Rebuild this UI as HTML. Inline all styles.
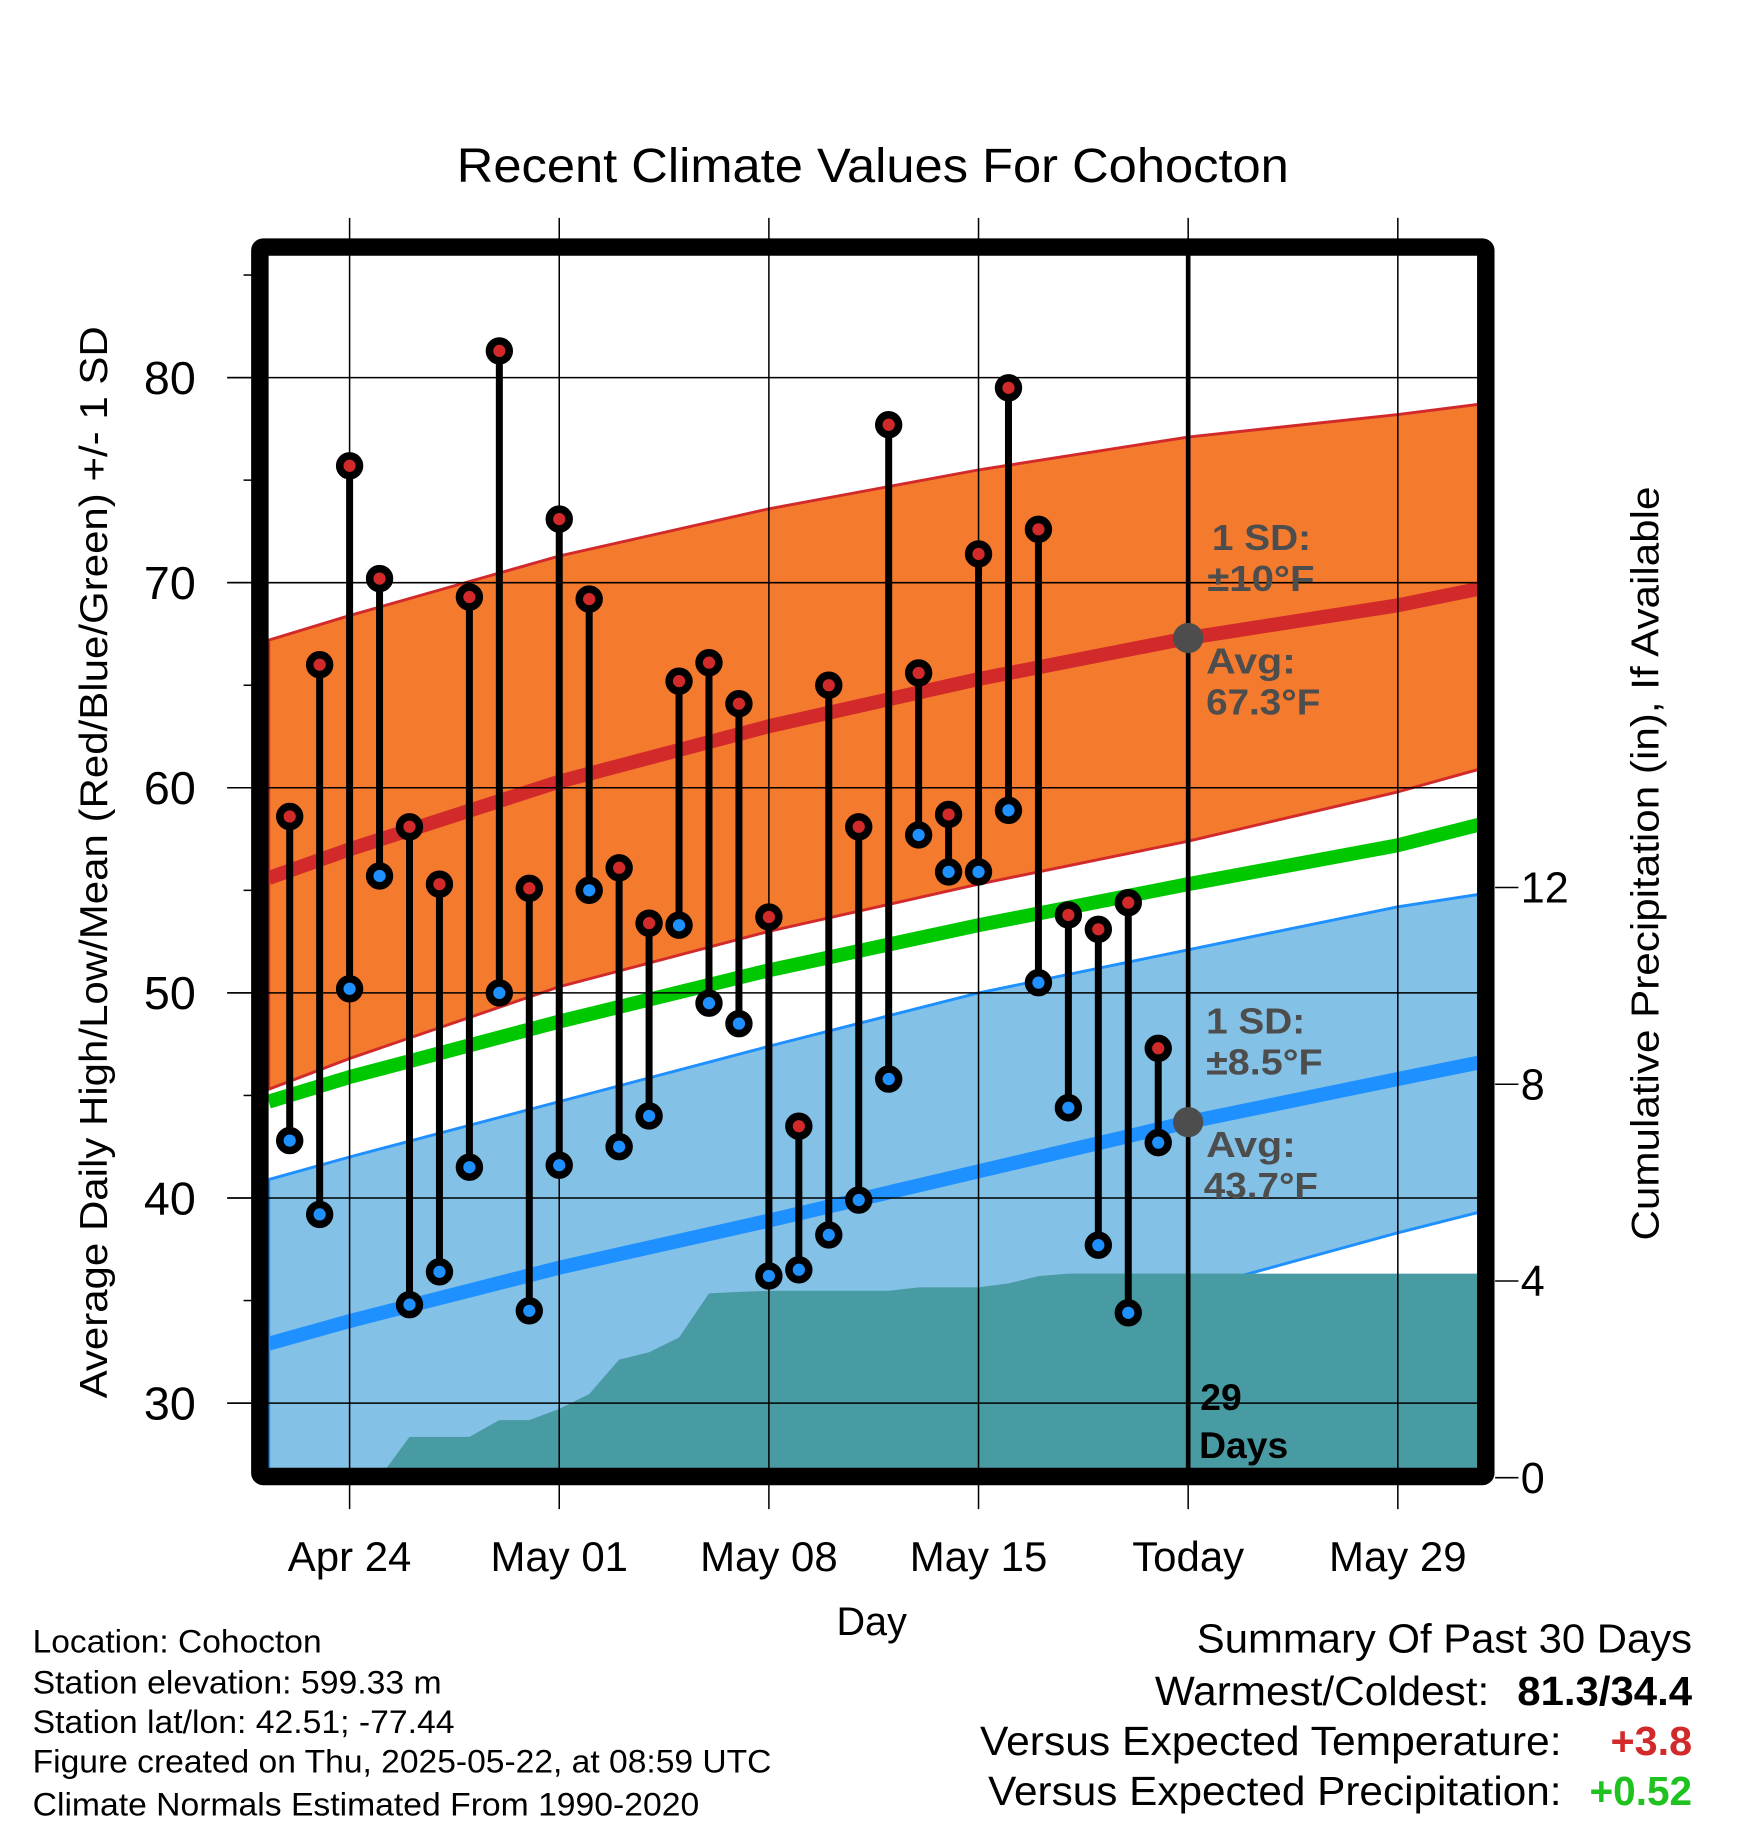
<!DOCTYPE html>
<html><head><meta charset="utf-8"><style>
html,body{margin:0;padding:0;background:#fff}
svg{display:block}
text{font-family:"Liberation Sans",Arial,sans-serif}
</style></head><body>
<svg id="chart" xmlns="http://www.w3.org/2000/svg" width="1748" height="1828" viewBox="0 0 1500 1568.6" preserveAspectRatio="none">
<text x="392" y="156" font-size="41" textLength="714" lengthAdjust="spacingAndGlyphs">Recent Climate Values For Cohocton</text>
<g id="plot"></g>
<text transform="translate(92,740) rotate(-90)" font-size="33" text-anchor="middle" textLength="920" lengthAdjust="spacingAndGlyphs">Average Daily High/Low/Mean (Red/Blue/Green) +/- 1 SD</text>
<text transform="translate(1423,741) rotate(-90)" font-size="33" text-anchor="middle" textLength="647" lengthAdjust="spacingAndGlyphs">Cumulative Precipitation (in), If Available</text>
<text x="748" y="1403" font-size="34" text-anchor="middle">Day</text>
<g font-size="28">
<text x="28" y="1418" textLength="248" lengthAdjust="spacingAndGlyphs">Location: Cohocton</text>
<text x="28" y="1453" textLength="351" lengthAdjust="spacingAndGlyphs">Station elevation: 599.33 m</text>
<text x="28" y="1487" textLength="362" lengthAdjust="spacingAndGlyphs">Station lat/lon: 42.51; -77.44</text>
<text x="28" y="1521" textLength="634" lengthAdjust="spacingAndGlyphs">Figure created on Thu, 2025-05-22, at 08:59 UTC</text>
<text x="28" y="1558" textLength="572" lengthAdjust="spacingAndGlyphs">Climate Normals Estimated From 1990-2020</text>
</g>
<g font-size="35">
<text x="1027" y="1418" textLength="425" lengthAdjust="spacingAndGlyphs">Summary Of Past 30 Days</text>
<text x="991" y="1463" textLength="287" lengthAdjust="spacingAndGlyphs">Warmest/Coldest:</text>
<text x="1302" y="1463" font-weight="bold" textLength="150" lengthAdjust="spacingAndGlyphs">81.3/34.4</text>
<text x="841" y="1506" textLength="499" lengthAdjust="spacingAndGlyphs">Versus Expected Temperature:</text>
<text x="1382" y="1506" font-weight="bold" fill="#d22a2a" textLength="70" lengthAdjust="spacingAndGlyphs">+3.8</text>
<text x="848" y="1549" textLength="492" lengthAdjust="spacingAndGlyphs">Versus Expected Precipitation:</text>
<text x="1364" y="1549" font-weight="bold" fill="#1fc21f" textLength="88" lengthAdjust="spacingAndGlyphs">+0.52</text>
</g>
</svg>
<script>
// day index 0 = Apr 22
const highs=[58.6,66.0,75.7,70.2,58.1,55.3,69.3,81.3,55.1,73.1,69.2,56.1,53.4,65.2,66.1,64.1,53.7,43.5,65.0,58.1,77.7,65.6,58.7,71.4,79.5,72.6,53.8,53.1,54.4,47.3];
const lows=[42.8,39.2,50.2,55.7,34.8,36.4,41.5,50.0,34.5,41.6,55.0,42.5,44.0,53.3,49.5,48.5,36.2,36.5,38.2,39.9,45.8,57.7,55.9,55.9,58.9,50.5,44.4,37.7,34.4,42.7];
const precip=[0,0,0,0,0.83,0.83,0.83,1.17,1.17,1.4,1.7,2.4,2.55,2.85,3.75,3.78,3.8,3.8,3.8,3.8,3.8,3.87,3.87,3.87,3.95,4.1,4.15,4.15,4.15,4.15];
// normals sampled at these day indices
const normDays=[-0.7,2,9,16,23,30,37,39.7];
const normHigh=[55.6,57.0,60.3,63.0,65.3,67.3,68.9,69.7];
const highUpper=[67.2,68.4,71.3,73.6,75.5,77.1,78.2,78.7];
const highLower=[45.3,46.8,50.3,53.0,55.3,57.4,59.8,60.9];
const normMean=[44.7,45.9,48.6,51.1,53.3,55.3,57.2,58.2];
const normLow=[32.9,34.0,36.6,38.9,41.3,43.7,45.8,46.6];
const lowUpper=[40.9,42.0,44.7,47.4,50.0,52.1,54.2,54.8];
const lowLower=[24.6,25.7,28.5,30.9,33.3,35.5,38.3,39.3];
const yTicks=[30,40,50,60,70,80];
const pTicks=[0,4,8,12];
const xTickDays=[2,9,16,23,30,37];
const xTickLabels=["Apr 24","May 01","May 08","May 15","Today","May 29"];
const todayDay=30;

const NS="http://www.w3.org/2000/svg";
const L=230,R=1268,T=219,B=1260;
const X=d=>300+(d-2)*25.7;
const Y=v=>324+(80-v)*17.6;
const P=p=>1268-p*42.2;
const g=document.getElementById('plot');
function mk(tag,a,parent){const e=document.createElementNS(NS,tag);for(const k in a)e.setAttribute(k,a[k]);(parent||g).appendChild(e);return e;}
function pts(xs,ys){return xs.map((d,i)=>X(d).toFixed(1)+','+Y(ys[i]).toFixed(1));}
const clip=mk('clipPath',{id:'clp'});mk('rect',{x:L,y:T,width:R-L,height:B-T},clip);
const inner=mk('g',{'clip-path':'url(#clp)'});
let e;
e=mk('polygon',{points:pts(normDays,highUpper).concat(pts(normDays,highLower).reverse()).join(' '),fill:'#f47a2e',stroke:'#d22a2a','stroke-width':2.5},inner);

e=mk('polygon',{points:pts(normDays,lowUpper).concat(pts(normDays,lowLower).reverse()).join(' '),fill:'#83c1e6',stroke:'#1e90ff','stroke-width':2.5},inner);

// grid
yTicks.forEach(v=>{e=mk('line',{x1:195,x2:R,y1:Y(v),y2:Y(v),stroke:'#000','stroke-width':1.3});});
xTickDays.forEach(d=>{e=mk('line',{x1:X(d),x2:X(d),y1:187,y2:1295,stroke:'#000','stroke-width':1.3});});
[[normHigh,'#d22a2a','normal-high-line'],[normMean,'#00c800','normal-mean-line'],[normLow,'#1e90ff','normal-low-line']].forEach(([arr,c,n])=>{
 e=mk('polyline',{points:pts(normDays,arr).join(' '),fill:'none',stroke:c,'stroke-width':12,'stroke-linejoin':'round'},inner);
 });
// precip area
let pp=[L+','+B, L+','+P(0)];
precip.forEach((p,i)=>pp.push(X(i).toFixed(1)+','+P(p).toFixed(1)));
pp.push(R+','+P(precip[precip.length-1]));pp.push(R+','+B);
e=mk('polygon',{points:pp.join(' '),fill:'#489aa3'},inner);

// today line
e=mk('line',{x1:X(todayDay),x2:X(todayDay),y1:T,y2:B,stroke:'#000','stroke-width':4});

// stems
highs.forEach((h,i)=>{
 e=mk('line',{x1:X(i),x2:X(i),y1:Y(h),y2:Y(lows[i]),stroke:'#000','stroke-width':6});
 
 [[h,'#d22a2a','high-point'],[lows[i],'#1e90ff','low-point']].forEach(([v,c,n])=>{
  e=mk('circle',{cx:X(i),cy:Y(v),r:8.5,fill:c,stroke:'#000','stroke-width':6.5});
  });
});
// today avg markers
[[67.3,'today-avg-high-marker'],[43.7,'today-avg-low-marker']].forEach(([v,n])=>{
 e=mk('circle',{cx:X(todayDay),cy:Y(v),r:13,fill:'#4d4d4d'});
 });
// annotations
const ann=[[1040,472,'1 SD:',85],[1036,507,'±10°F',92],[1035,578,'Avg:',77],[1035,613,'67.3°F',98],[1035,887,'1 SD:',85],[1035,922,'±8.5°F',100],[1035,993,'Avg:',77],[1033,1028,'43.7°F',98]];
ann.forEach(([x,y,t,w])=>{e=mk('text',{x:x,y:y,'font-size':31,'font-weight':'bold',fill:'#4d4d4d',textLength:w,lengthAdjust:'spacingAndGlyphs'});e.textContent=t;
 });
e=mk('text',{x:1030,y:1210,'font-size':32,'font-weight':'bold'});e.textContent='29';
e=mk('text',{x:1029,y:1251,'font-size':32,'font-weight':'bold'});e.textContent='Days';
// frame
e=mk('rect',{x:223,y:212,width:1052,height:1055,fill:'none',stroke:'#000','stroke-width':15,rx:3});

// left ticks
for(let v=30;v<=85;v+=5){const major=v%10===0;e=mk('line',{x1:major?195:209,x2:216,y1:Y(v),y2:Y(v),stroke:'#000','stroke-width':1.3});
 }
yTicks.forEach(v=>{e=mk('text',{x:168,y:Y(v)+14,'font-size':40,'text-anchor':'end'});e.textContent=v;
 });
pTicks.forEach(p=>{e=mk('line',{x1:1283,x2:1303,y1:P(p),y2:P(p),stroke:'#000','stroke-width':1.3});
 
 e=mk('text',{x:1305,y:P(p)+13,'font-size':37});e.textContent=p;
 });
xTickDays.forEach((d,i)=>{e=mk('text',{x:X(d),y:1348,'font-size':36,'text-anchor':'middle'});e.textContent=xTickLabels[i];
 });
</script>
</body></html>
